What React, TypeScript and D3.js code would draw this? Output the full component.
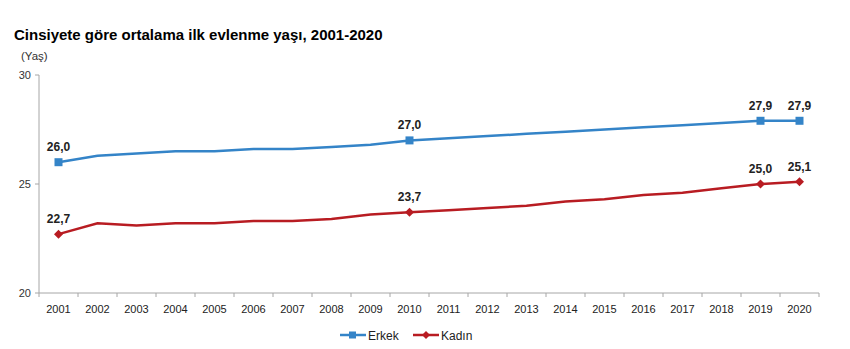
import React from "react";
import * as d3 from "d3";

const years = ["2001","2002","2003","2004","2005","2006","2007","2008","2009","2010","2011","2012","2013","2014","2015","2016","2017","2018","2019","2020"];
const erkek = [26.0,26.3,26.4,26.5,26.5,26.6,26.6,26.7,26.8,27.0,27.1,27.2,27.3,27.4,27.5,27.6,27.7,27.8,27.9,27.9];
const kadin = [22.7,23.2,23.1,23.2,23.2,23.3,23.3,23.4,23.6,23.7,23.8,23.9,24.0,24.2,24.3,24.5,24.6,24.8,25.0,25.1];
const yTicks = [20, 25, 30];
const labelIdx = [0, 9, 18, 19];

const W = 850, H = 349;
const BLUE = "#3484C8";
const RED = "#B81C22";
const FONT = "Liberation Sans, Arial, sans-serif";

export default function App() {
  const x = d3.scaleBand<string>().domain(years).range([39, 819]);
  const y = d3.scaleLinear().domain([20, 30]).range([293, 75]);
  const cx = (i: number) => (x(years[i]) as number) + x.bandwidth() / 2;
  const line = d3.line<number>().x((_, i) => cx(i)).y((d) => y(d));
  const fmt = (v: number) => v.toFixed(1).replace(".", ",");

  const diamond = (px: number, py: number, s: number) =>
    `M${px},${py - s}L${px + s},${py}L${px},${py + s}L${px - s},${py}Z`;

  return (
    <svg width={W} height={H} style={{ position: "absolute", left: 0, top: 0 }} fontFamily={FONT}>
      <rect width={W} height={H} fill="#fff" />
      <text x={14} y={40} fontSize={15} fontWeight="bold" fill="#000">Cinsiyete göre ortalama ilk evlenme yaşı, 2001-2020</text>
      <text x={21} y={60} fontSize={11.5} fill="#333">(Yaş)</text>
      {/* y axis */}
      <line x1={39} x2={39} y1={y(30)} y2={y(20)} stroke="#A6A6A6" strokeWidth={1} />
      {yTicks.map((t) => (
        <g key={t}>
          <line x1={35} x2={39} y1={y(t)} y2={y(t)} stroke="#A6A6A6" />
          <text x={31} y={y(t) + 4} fontSize={11} textAnchor="end" fill="#333">{t}</text>
        </g>
      ))}
      {/* x axis */}
      <line x1={39} x2={819} y1={y(20)} y2={y(20)} stroke="#A6A6A6" strokeWidth={1} />
      {years.map((yr, i) => (
        <g key={yr}>
          <line x1={(x(yr) as number) + x.bandwidth()} x2={(x(yr) as number) + x.bandwidth()} y1={y(20)} y2={y(20) + 4} stroke="#A6A6A6" />
          <text x={cx(i)} y={313} fontSize={11} textAnchor="middle" fill="#222">{yr}</text>
        </g>
      ))}
      <line x1={39} x2={39} y1={y(20)} y2={y(20) + 4} stroke="#A6A6A6" />
      {/* lines */}
      <path d={line(erkek) || ""} fill="none" stroke={BLUE} strokeWidth={2.5} />
      <path d={line(kadin) || ""} fill="none" stroke={RED} strokeWidth={2.5} />
      {labelIdx.map((i) => (
        <g key={"m" + i}>
          <rect x={cx(i) - 4} y={y(erkek[i]) - 4} width={8} height={8} fill={BLUE} />
          <path d={diamond(cx(i), y(kadin[i]), 4.5)} fill={RED} />
          <text x={cx(i)} y={y(erkek[i]) - 11} fontSize={12} fontWeight="bold" textAnchor="middle" fill="#222">{fmt(erkek[i])}</text>
          <text x={cx(i)} y={y(kadin[i]) - 11} fontSize={12} fontWeight="bold" textAnchor="middle" fill="#222">{fmt(kadin[i])}</text>
        </g>
      ))}
      {/* legend */}
      <line x1={340} x2={366} y1={335} y2={335} stroke={BLUE} strokeWidth={2.5} />
      <rect x={349} y={331.5} width={7} height={7} fill={BLUE} />
      <text x={368} y={339.5} fontSize={12} fill="#222">Erkek</text>
      <line x1={413} x2={439} y1={335} y2={335} stroke={RED} strokeWidth={2.5} />
      <path d={diamond(426, 335, 4)} fill={RED} />
      <text x={441} y={339.5} fontSize={12} fill="#222">Kadın</text>
    </svg>
  );
}
